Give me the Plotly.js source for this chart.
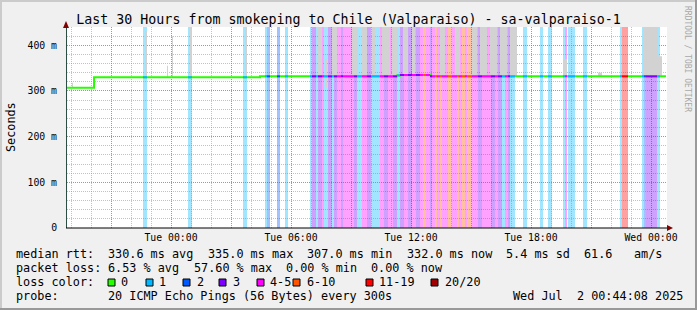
<!DOCTYPE html>
<html><head><meta charset="utf-8">
<script src="https://cdn.plot.ly/plotly-3.0.1.min.js"></script>
<style>html,body{margin:0;padding:0;background:#f0f0f0;} #chart{width:697px;height:310px;}</style>
</head><body><div id="chart"></div>
<script>
// ---------- data (hours relative to Tue 2025-07-01 00:00) ----------
const lossStart = [-1.40, 0.85, 3.60, 4.70, 4.80, 5.30, 5.70, 6.95, 7.05, 7.25,
  7.35, 7.55, 7.65, 7.85, 8.05, 8.15, 8.30, 8.50, 8.60, 9.15,
  9.30, 9.55, 9.80, 10.00, 10.45, 10.65, 10.85, 11.10, 11.30, 11.45,
  11.65, 11.85, 12.05, 12.25, 12.45, 12.60, 12.75, 12.95, 13.05, 13.20,
  13.30, 13.45, 13.55, 13.85, 14.05, 14.30, 14.40, 14.55, 14.70, 14.80,
  15.05, 15.35, 15.55, 16.00, 16.20, 16.35, 16.55, 16.70, 16.85, 16.95,
  17.60, 18.45, 18.85, 19.60, 19.70, 19.85, 20.60, 22.45, 22.55, 23.55,
  23.65, 23.75, 24.30];
const lossEnd = [-1.20, 1.05, 3.80, 4.80, 4.95, 5.45, 5.85, 7.05, 7.25, 7.35,
  7.55, 7.65, 7.85, 8.05, 8.15, 8.30, 8.50, 8.60, 9.15, 9.30,
  9.55, 9.80, 10.00, 10.45, 10.65, 10.85, 11.10, 11.30, 11.45, 11.65,
  11.85, 12.05, 12.25, 12.45, 12.60, 12.75, 12.95, 13.05, 13.20, 13.30,
  13.45, 13.55, 13.85, 14.05, 14.30, 14.40, 14.55, 14.70, 14.80, 15.05,
  15.35, 15.55, 16.00, 16.20, 16.35, 16.55, 16.70, 16.85, 16.95, 17.20,
  17.80, 18.60, 19.05, 19.70, 19.80, 20.20, 20.80, 22.55, 22.85, 23.65,
  23.75, 24.30, 24.45];
const lossLevel = [1, 1, 1, 1, 2, 2, 1, 1, 3, 1,
  3, 4, 1, 3, 1, 3, 4, 3, 4, 3,
  1, 4, 3, 1, 4, 3, 4, 3, 1, 3,
  4, 3, 4, 3, 4, 5, 4, 3, 4, 5,
  4, 5, 4, 5, 4, 5, 4, 5, 4, 5,
  4, 3, 4, 3, 4, 3, 1, 4, 3, 1,
  1, 1, 1, 1, 4, 1, 1, 1, 6, 1,
  2, 3, 1];

const medTime  = [-5.20, -3.85, 4.45, 11.30, 11.45, 13.00, 24.75];
const medValue = [307, 330, 332, 334, 335, 332, 332];

const smokeStart = [-4.95, -1.30, -0.20, 0.05, 0.95, 3.70, 7.35, 7.70, 8.05, 8.10,
  9.05, 9.55, 10.05, 10.55, 11.05, 11.60, 12.05, 13.45, 14.20, 15.05,
  15.45, 15.95, 16.45, 16.95, 19.60, 21.35, 23.60, 24.35];
const smokeEnd = [-4.90, -1.20, -0.15, 0.10, 1.05, 3.80, 7.55, 7.80, 8.30, 8.15,
  9.35, 9.80, 10.20, 10.95, 11.35, 11.85, 12.20, 13.70, 14.45, 15.30,
  15.80, 16.30, 16.80, 17.30, 19.80, 21.55, 24.35, 24.55];
const smokeLow = [307, 330, 330, 330, 330, 330, 332, 308, 332, 308,
  332, 332, 332, 332, 334, 335, 335, 332, 332, 332,
  332, 332, 332, 332, 332, 332, 332, 332];
const smokeHigh = [318, 430, 355, 420, 445, 445, 445, 370, 445, 332,
  445, 445, 445, 445, 445, 445, 445, 445, 445, 445,
  445, 445, 445, 445, 370, 340, 445, 376];

const lossColors = ['#26ff00', '#00b8ff', '#0059ff', '#7e00ff', '#ff00ff', '#ff5500', '#ff0000', '#a10000'];
const lossLabels = ['0', '1', '2', '3', '4-5', '6-10', '11-19', '20/20'];

const xTickHours = [-3, 0, 3, 6, 9, 12, 15, 18, 21, 24];
const xTickText  = ['', 'Tue 00:00', '', 'Tue 06:00', '', 'Tue 12:00', '', 'Tue 18:00', '', 'Wed 00:00'];
const yTickVals = [0, 100, 200, 300, 400];
const yTickText = ['0', '100 m', '200 m', '300 m', '400 m'];

const titleText = 'Last 30 Hours from smokeping to Chile (Valparaiso) - sa-valparaiso-1';
const rttStats  = ['median rtt:', '330.6 ms avg', '335.0 ms max', '307.0 ms min', '332.0 ms now', '5.4 ms sd', '61.6', 'am/s'];
const lossStats = ['packet loss:', '6.53 % avg', '57.60 % max', '0.00 % min', '0.00 % now'];
const probeRow  = ['probe:', '20 ICMP Echo Pings (56 Bytes) every 300s', 'Wed Jul  2 00:44:08 2025'];

// ---------- helpers ----------
const T0 = Date.UTC(2025, 6, 1, 0, 0, 0);
const HOUR = 3600000;
function t(h) { return new Date(T0 + h * HOUR).toISOString().slice(0, 19).replace('T', ' '); }
function rgba(hex, a) {
  const r = parseInt(hex.slice(1, 3), 16), g = parseInt(hex.slice(3, 5), 16), b = parseInt(hex.slice(5, 7), 16);
  return 'rgba(' + r + ',' + g + ',' + b + ',' + a + ')';
}
function medAt(h) { let v = medValue[0]; for (let i = 0; i < medTime.length; i++) if (medTime[i] <= h) v = medValue[i]; return v; }

const Y_TOP = 440;
const L = 67, R = 667, TOP = 27, BOT = 228;
const PW = R - L, PH = BOT - TOP;
function px(x) { return (x - L) / PW; }
function py(y) { return (BOT - y) / PH; }

const traces = [];
traces.push({
  type: 'bar',
  x: lossStart.map((s, i) => t((s + lossEnd[i]) / 2)),
  width: lossStart.map((s, i) => (lossEnd[i] - s) * HOUR),
  y: lossStart.map(() => Y_TOP),
  base: 0,
  marker: { color: lossLevel.map(l => rgba(lossColors[l], 0.37)), line: { width: 0 } },
  hoverinfo: 'skip'
});
traces.push({
  type: 'bar',
  x: smokeStart.map((s, i) => t((s + smokeEnd[i]) / 2)),
  width: smokeStart.map((s, i) => (smokeEnd[i] - s) * HOUR),
  y: smokeHigh.map((v, i) => v - smokeLow[i]),
  base: smokeLow,
  marker: { color: '#d2d2d2', line: { width: 0 } },
  hoverinfo: 'skip'
});
traces.push({
  type: 'scatter', mode: 'lines',
  x: medTime.map(t), y: medValue,
  line: { color: lossColors[0], width: 2, shape: 'hv' },
  hoverinfo: 'skip'
});
for (let k = 1; k < lossColors.length; k++) {
  const xs = [], ys = [];
  lossStart.forEach((s, i) => {
    if (lossLevel[i] !== k) return;
    const m = medAt((s + lossEnd[i]) / 2);
    xs.push(t(s), t(lossEnd[i]), null);
    ys.push(m, m, null);
  });
  if (xs.length) traces.push({ type: 'scatter', mode: 'lines', x: xs, y: ys,
    line: { color: lossColors[k], width: 2 }, hoverinfo: 'skip', connectgaps: false });
}

const mono = 'DejaVu Sans Mono';
const CW = 7.1; // monospace column width of legend text
function col(c) { return 16 + c * CW; }
const annotations = [];
const shapes = [];
function txt(text, x, y, size, extra) {
  annotations.push(Object.assign({ text: text, xref: 'paper', yref: 'paper', x: px(x), y: py(y),
    xanchor: 'left', yanchor: 'middle', showarrow: false, borderpad: 0, borderwidth: 0,
    font: { family: mono, size: size || 11.8, color: '#000' } }, extra || {}));
}
[0, 13, 27, 41, 55, 69, 80, 87].forEach((c, i) => txt(rttStats[i], col(c), 254));
[0, 13, 25, 38, 50].forEach((c, i) => txt(lossStats[i], col(c), 268));
txt('loss color:', col(0), 282);
const boxX = [108, 146, 183, 219, 257, 293, 366, 431];
const labX = [121, 159, 197, 233, 270, 307, 379, 445];
lossColors.forEach((c, i) => {
  shapes.push({ type: 'rect', xref: 'paper', yref: 'paper', x0: px(boxX[i]), x1: px(boxX[i] + 7),
    y0: py(286), y1: py(279), fillcolor: c, line: { color: '#000', width: 1 } });
  txt(lossLabels[i], labX[i], 282);
});
[0, 13, 70].forEach((c, i) => txt(probeRow[i], col(c), 296));
annotations.push({ text: 'Seconds', xref: 'paper', yref: 'paper', x: px(11), y: py(127), textangle: -90,
  showarrow: false, xanchor: 'center', yanchor: 'middle', font: { family: mono, size: 11.8, color: '#000' } });
annotations.push({ text: 'RRDTOOL / TOBI OETIKER', xref: 'paper', yref: 'paper', x: px(688), y: py(59), textangle: 90,
  showarrow: false, xanchor: 'center', yanchor: 'middle', font: { family: mono, size: 8, color: '#a8a8a8' } });

function path(pts) { return 'M' + pts.map(p => px(p[0]) + ',' + py(p[1])).join(' L') + ' Z'; }
shapes.push({ type: 'path', xref: 'paper', yref: 'paper', path: path([[63, 28], [69, 28], [66, 21]]),
  fillcolor: '#800000', line: { width: 0 } });
shapes.push({ type: 'path', xref: 'paper', yref: 'paper', path: path([[667, 225], [667, 231], [673, 228]]),
  fillcolor: '#800000', line: { width: 0 } });
shapes.push({ type: 'line', xref: 'paper', yref: 'paper', x0: px(66), x1: px(667), y0: py(228), y1: py(228),
  line: { color: '#000', width: 1 } });
shapes.push({ type: 'rect', xref: 'paper', yref: 'paper', x0: px(0), x1: px(697), y0: py(2), y1: py(0), fillcolor: '#cbcbcb', line: { width: 0 } });
shapes.push({ type: 'rect', xref: 'paper', yref: 'paper', x0: px(0), x1: px(2), y0: py(310), y1: py(0), fillcolor: '#cbcbcb', line: { width: 0 } });
shapes.push({ type: 'rect', xref: 'paper', yref: 'paper', x0: px(695), x1: px(697), y0: py(310), y1: py(0), fillcolor: '#999999', line: { width: 0 } });
shapes.push({ type: 'rect', xref: 'paper', yref: 'paper', x0: px(0), x1: px(697), y0: py(310), y1: py(308), fillcolor: '#999999', line: { width: 0 } });

const minorGray = 'rgba(143,143,143,0.55)';
const majorRed = 'rgba(222,80,80,0.55)';
const layout = {
  width: 697, height: 310,
  margin: { l: L, r: 697 - R, t: TOP, b: 310 - BOT, pad: 0 },
  paper_bgcolor: '#f0f0f0', plot_bgcolor: '#ffffff',
  showlegend: false, barmode: 'overlay',
  title: { text: titleText, x: 0.5, xref: 'container', xanchor: 'center', y: 1 - 19 / 310, yref: 'container', yanchor: 'middle',
    font: { family: mono, size: 13.3, color: '#000' } },
  xaxis: {
    type: 'date', range: [t(-5.2), t(24.8)],
    tickmode: 'array', tickvals: xTickHours.map(t), ticktext: xTickText,
    showgrid: true, gridcolor: majorRed, griddash: '1px,1px', gridwidth: 1,
    minor: { tick0: t(0), dtick: HOUR, showgrid: true, gridcolor: minorGray, griddash: '1px,1px', gridwidth: 1 },
    showline: false, zeroline: false, ticks: '', ticklabelstandoff: 2,
    tickfont: { family: mono, size: 9.8, color: '#000' }, fixedrange: true
  },
  yaxis: {
    range: [0, Y_TOP], tickmode: 'array', tickvals: yTickVals, ticktext: yTickText,
    showgrid: true, gridcolor: majorRed, griddash: '1px,1px', gridwidth: 1,
    minor: { dtick: 20, showgrid: true, gridcolor: minorGray, griddash: '1px,1px', gridwidth: 1 },
    showline: true, linecolor: '#2c4d43', linewidth: 1, zeroline: false, ticks: '', ticklabelstandoff: 7,
    tickfont: { family: mono, size: 9.8, color: '#000' }, fixedrange: true
  },
  annotations: annotations, shapes: shapes
};
Plotly.newPlot('chart', traces, layout, { staticPlot: true, displayModeBar: false });
</script></body></html>
